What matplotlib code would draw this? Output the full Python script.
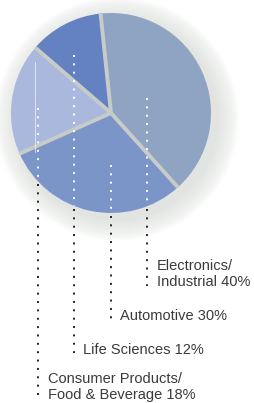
import matplotlib
matplotlib.use("Agg")
import matplotlib.pyplot as plt
import numpy as np
from matplotlib.patches import Circle

# ---- data ----
categories = ["Electronics/\nIndustrial", "Automotive", "Consumer Products/\nFood & Beverage", "Life Sciences"]
shares = [40, 30, 18, 12]
colors = ["#8fa3c3", "#7c95c9", "#a9b8dc", "#6482c1"]
label_lines = [["Electronics/", "Industrial 40%"], ["Automotive 30%"],
               ["Consumer Products/", "Food & Beverage 18%"], ["Life Sciences 12%"]]

W, H = 254, 403
fig = plt.figure(figsize=(W / 100, H / 100), dpi=100)
ax = fig.add_axes([0, 0, 1, 1])

def py(y):  # pixel-from-top to data y
    return H - y

cx, cy, R = 111, py(113), 100

# soft shadow
for k in range(22):
    ax.add_patch(Circle((cx + 6, cy - 6), R + 22 - k, color="#9aa19a", alpha=0.013, lw=0, zorder=1))

wedges, _ = ax.pie(shares, colors=colors, startangle=96, counterclock=False,
                   center=(cx, cy), radius=R, wedgeprops=dict(linewidth=0), frame=True)
for w in wedges:
    w.set_zorder(2)
ax.set_xlim(0, W)
ax.set_ylim(0, H)
ax.set_aspect("equal")
ax.axis("off")

# gaps between slices
for w in wedges:
    a = np.deg2rad(w.theta2)
    ax.plot([cx, cx + R * np.cos(a)], [cy, cy + R * np.sin(a)], color="#c8ccc9",
            lw=2.8, solid_capstyle="butt", zorder=3)

# faint white line in consumer slice
ax.plot([35, 35], [py(62), py(152)], color="white", lw=0.6, alpha=0.7, zorder=3)

# leader lines: x, top, bottom (pixels)
leaders = [(147, 98, 286), (111, 165, 321), (38, 108, 400), (74, 55, 354)]
dash = (0, (1, 3.3))
for x, top, bot in leaders:
    yb = cy - np.sqrt(R ** 2 - (x - cx) ** 2)
    ax.plot([x, x], [py(top), yb], color="white", lw=1.4, linestyle=dash, zorder=4)
    ax.plot([x, x], [yb - 3, py(bot)], color="#222222", lw=1.4, linestyle=dash, zorder=4)

# labels: x, baselines
label_pos = [(157, [270.5, 285.5]), (120, [320.5]), (48, [383, 399.5]), (83, [354])]
for lines, (x, bases) in zip(label_lines, label_pos):
    for t, b in zip(lines, bases):
        ax.text(x, py(b), t, fontsize=10.5, family="Liberation Sans", color="#3a3a3a",
                ha="left", va="baseline", zorder=5)

fig.savefig("out.png", dpi=100)
